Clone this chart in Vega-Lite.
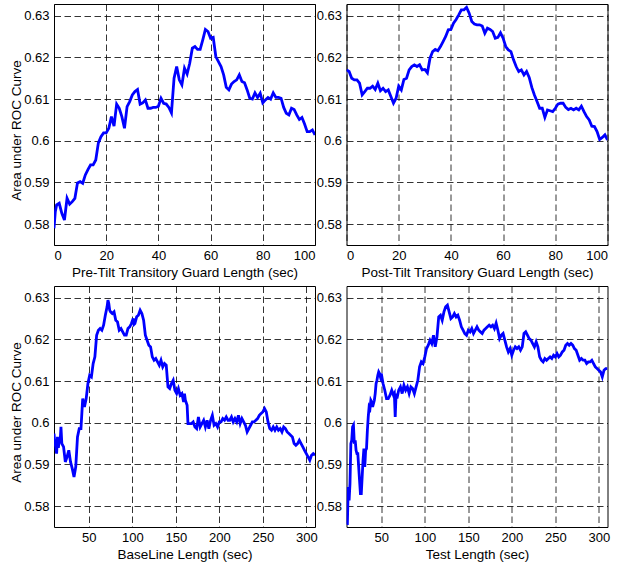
{
"$schema": "https://vega.github.io/schema/vega-lite/v6.json",
"padding": {"left": 9, "top": 3, "right": 5, "bottom": 5},
"autosize": {"type": "pad"},
"columns": 2,
"spacing": {"row": 41, "column": 31.5},
"bounds": "flush",
"datasets": {
"pre": [{"x":0,"y":0.579},{"x":0.5,"y":0.583},{"x":1,"y":0.5846},{"x":2,"y":0.585},{"x":3,"y":0.5826},{"x":4,"y":0.581},{"x":5,"y":0.5862},{"x":6,"y":0.5848},{"x":7,"y":0.5854},{"x":8,"y":0.5862},{"x":9,"y":0.5899},{"x":10,"y":0.5902},{"x":11,"y":0.5898},{"x":12,"y":0.5918},{"x":13,"y":0.5931},{"x":14,"y":0.5942},{"x":15,"y":0.5942},{"x":16,"y":0.5954},{"x":17,"y":0.5995},{"x":18,"y":0.601},{"x":19,"y":0.6019},{"x":20,"y":0.6019},{"x":21,"y":0.603},{"x":22,"y":0.6058},{"x":23,"y":0.6035},{"x":24,"y":0.6088},{"x":25,"y":0.6078},{"x":26,"y":0.6058},{"x":27,"y":0.603},{"x":28,"y":0.6082},{"x":29,"y":0.6094},{"x":30,"y":0.611},{"x":31,"y":0.6118},{"x":32,"y":0.6123},{"x":33,"y":0.6088},{"x":34,"y":0.6091},{"x":35,"y":0.6098},{"x":36,"y":0.6078},{"x":37,"y":0.6078},{"x":38,"y":0.608},{"x":39,"y":0.608},{"x":40,"y":0.6083},{"x":41,"y":0.6102},{"x":42,"y":0.609},{"x":43,"y":0.6088},{"x":44,"y":0.608},{"x":45,"y":0.6067},{"x":46,"y":0.615},{"x":47,"y":0.6178},{"x":48,"y":0.6146},{"x":49,"y":0.6134},{"x":50,"y":0.6174},{"x":51,"y":0.616},{"x":52,"y":0.6186},{"x":53,"y":0.6222},{"x":54,"y":0.6226},{"x":55,"y":0.6219},{"x":56,"y":0.6219},{"x":57,"y":0.6242},{"x":58,"y":0.6267},{"x":59,"y":0.6262},{"x":60,"y":0.6246},{"x":61,"y":0.6248},{"x":62,"y":0.6202},{"x":63,"y":0.619},{"x":64,"y":0.6178},{"x":65,"y":0.6158},{"x":66,"y":0.6128},{"x":67,"y":0.6122},{"x":68,"y":0.6136},{"x":69,"y":0.6142},{"x":70,"y":0.6146},{"x":71,"y":0.6158},{"x":72,"y":0.6142},{"x":73,"y":0.6139},{"x":74,"y":0.6122},{"x":75,"y":0.6102},{"x":76,"y":0.61},{"x":77,"y":0.6115},{"x":78,"y":0.6104},{"x":79,"y":0.6114},{"x":80,"y":0.6091},{"x":81,"y":0.6098},{"x":82,"y":0.6104},{"x":83,"y":0.61},{"x":84,"y":0.6115},{"x":85,"y":0.6104},{"x":86,"y":0.6104},{"x":87,"y":0.6102},{"x":88,"y":0.608},{"x":89,"y":0.6066},{"x":90,"y":0.6062},{"x":91,"y":0.6078},{"x":92,"y":0.6075},{"x":93,"y":0.6062},{"x":94,"y":0.6051},{"x":95,"y":0.6056},{"x":96,"y":0.604},{"x":97,"y":0.6022},{"x":98,"y":0.6022},{"x":99,"y":0.6026},{"x":100,"y":0.6014}],
"post": [{"x":0,"y":0.617},{"x":1,"y":0.6166},{"x":2,"y":0.615},{"x":3,"y":0.6146},{"x":4,"y":0.6146},{"x":5,"y":0.6138},{"x":6,"y":0.611},{"x":7,"y":0.6118},{"x":8,"y":0.6126},{"x":9,"y":0.6126},{"x":10,"y":0.6131},{"x":11,"y":0.6123},{"x":12,"y":0.6138},{"x":13,"y":0.612},{"x":14,"y":0.6126},{"x":15,"y":0.6118},{"x":16,"y":0.6122},{"x":17,"y":0.6106},{"x":18,"y":0.609},{"x":19,"y":0.6102},{"x":20,"y":0.6131},{"x":21,"y":0.6122},{"x":22,"y":0.6147},{"x":23,"y":0.615},{"x":24,"y":0.617},{"x":25,"y":0.6178},{"x":26,"y":0.6182},{"x":27,"y":0.6178},{"x":28,"y":0.6182},{"x":29,"y":0.617},{"x":30,"y":0.6171},{"x":31,"y":0.6163},{"x":32,"y":0.6198},{"x":33,"y":0.6214},{"x":34,"y":0.6219},{"x":35,"y":0.6216},{"x":36,"y":0.6226},{"x":37,"y":0.6238},{"x":38,"y":0.625},{"x":39,"y":0.6266},{"x":40,"y":0.6267},{"x":41,"y":0.6282},{"x":42,"y":0.6291},{"x":43,"y":0.6302},{"x":44,"y":0.6314},{"x":45,"y":0.6314},{"x":46,"y":0.632},{"x":47,"y":0.6306},{"x":48,"y":0.6286},{"x":49,"y":0.628},{"x":50,"y":0.6278},{"x":51,"y":0.6278},{"x":52,"y":0.6275},{"x":53,"y":0.6258},{"x":54,"y":0.627},{"x":55,"y":0.6267},{"x":56,"y":0.6262},{"x":57,"y":0.6246},{"x":58,"y":0.6248},{"x":59,"y":0.6259},{"x":60,"y":0.6246},{"x":61,"y":0.6226},{"x":62,"y":0.6218},{"x":63,"y":0.6214},{"x":64,"y":0.6194},{"x":65,"y":0.6178},{"x":66,"y":0.6166},{"x":67,"y":0.617},{"x":68,"y":0.6158},{"x":69,"y":0.6166},{"x":70,"y":0.6152},{"x":71,"y":0.6128},{"x":72,"y":0.611},{"x":73,"y":0.6094},{"x":74,"y":0.6078},{"x":75,"y":0.6078},{"x":76,"y":0.6056},{"x":77,"y":0.6074},{"x":78,"y":0.6072},{"x":79,"y":0.607},{"x":80,"y":0.6078},{"x":81,"y":0.6088},{"x":82,"y":0.609},{"x":83,"y":0.609},{"x":84,"y":0.608},{"x":85,"y":0.6075},{"x":86,"y":0.6078},{"x":87,"y":0.6074},{"x":88,"y":0.6078},{"x":89,"y":0.6074},{"x":90,"y":0.6083},{"x":91,"y":0.607},{"x":92,"y":0.6058},{"x":93,"y":0.605},{"x":94,"y":0.6035},{"x":95,"y":0.6034},{"x":96,"y":0.6022},{"x":97,"y":0.6003},{"x":98,"y":0.6008},{"x":99,"y":0.6014},{"x":100,"y":0.6002}],
"base": [{"x":10,"y":0.5974},{"x":11,"y":0.595},{"x":12,"y":0.5942},{"x":13,"y":0.5926},{"x":14,"y":0.5966},{"x":15,"y":0.594},{"x":16,"y":0.5958},{"x":17,"y":0.5952},{"x":18,"y":0.599},{"x":19,"y":0.595},{"x":21,"y":0.5942},{"x":23,"y":0.5906},{"x":25,"y":0.5918},{"x":27,"y":0.5934},{"x":29,"y":0.5906},{"x":31,"y":0.589},{"x":33,"y":0.587},{"x":35,"y":0.5894},{"x":37,"y":0.5966},{"x":39,"y":0.5986},{"x":41,"y":0.5986},{"x":43,"y":0.6058},{"x":45,"y":0.6038},{"x":47,"y":0.6058},{"x":49,"y":0.6094},{"x":51,"y":0.6114},{"x":53,"y":0.611},{"x":55,"y":0.6142},{"x":57,"y":0.6158},{"x":59,"y":0.621},{"x":61,"y":0.6222},{"x":63,"y":0.6226},{"x":65,"y":0.6222},{"x":67,"y":0.6234},{"x":69,"y":0.6258},{"x":71,"y":0.6278},{"x":72,"y":0.6294},{"x":73,"y":0.6286},{"x":74,"y":0.627},{"x":75,"y":0.6266},{"x":77,"y":0.6262},{"x":79,"y":0.6266},{"x":81,"y":0.6246},{"x":83,"y":0.6242},{"x":85,"y":0.6222},{"x":87,"y":0.6226},{"x":89,"y":0.6218},{"x":91,"y":0.621},{"x":93,"y":0.621},{"x":95,"y":0.6226},{"x":97,"y":0.623},{"x":99,"y":0.6238},{"x":101,"y":0.625},{"x":102,"y":0.6236},{"x":103,"y":0.6238},{"x":105,"y":0.6254},{"x":107,"y":0.6258},{"x":109,"y":0.627},{"x":111,"y":0.6262},{"x":113,"y":0.6246},{"x":115,"y":0.621},{"x":117,"y":0.6198},{"x":119,"y":0.6186},{"x":121,"y":0.6182},{"x":123,"y":0.6158},{"x":125,"y":0.615},{"x":127,"y":0.6154},{"x":129,"y":0.6146},{"x":131,"y":0.6138},{"x":133,"y":0.615},{"x":135,"y":0.6134},{"x":137,"y":0.6142},{"x":139,"y":0.6138},{"x":141,"y":0.6086},{"x":143,"y":0.6082},{"x":145,"y":0.6094},{"x":147,"y":0.6102},{"x":149,"y":0.6078},{"x":151,"y":0.607},{"x":153,"y":0.6082},{"x":155,"y":0.6066},{"x":157,"y":0.607},{"x":159,"y":0.605},{"x":160,"y":0.607},{"x":161,"y":0.6054},{"x":163,"y":0.6042},{"x":164,"y":0.5998},{"x":166,"y":0.5998},{"x":168,"y":0.5998},{"x":170,"y":0.6002},{"x":172,"y":0.599},{"x":174,"y":0.5986},{"x":176,"y":0.6014},{"x":178,"y":0.599},{"x":180,"y":0.5998},{"x":182,"y":0.6006},{"x":184,"y":0.599},{"x":186,"y":0.6006},{"x":188,"y":0.5986},{"x":190,"y":0.6006},{"x":192,"y":0.6018},{"x":194,"y":0.5994},{"x":196,"y":0.5998},{"x":198,"y":0.599},{"x":200,"y":0.6002},{"x":202,"y":0.6002},{"x":204,"y":0.601},{"x":206,"y":0.6006},{"x":208,"y":0.6014},{"x":210,"y":0.6006},{"x":212,"y":0.6006},{"x":214,"y":0.6014},{"x":216,"y":0.6002},{"x":218,"y":0.601},{"x":220,"y":0.6002},{"x":222,"y":0.6018},{"x":224,"y":0.5998},{"x":226,"y":0.601},{"x":228,"y":0.6002},{"x":230,"y":0.5994},{"x":232,"y":0.5978},{"x":234,"y":0.5986},{"x":236,"y":0.5994},{"x":238,"y":0.6002},{"x":240,"y":0.6002},{"x":242,"y":0.6006},{"x":244,"y":0.601},{"x":246,"y":0.6018},{"x":248,"y":0.6022},{"x":250,"y":0.6026},{"x":252,"y":0.6034},{"x":254,"y":0.6026},{"x":256,"y":0.6002},{"x":258,"y":0.5986},{"x":260,"y":0.5982},{"x":262,"y":0.599},{"x":264,"y":0.5982},{"x":266,"y":0.599},{"x":268,"y":0.5982},{"x":270,"y":0.5986},{"x":272,"y":0.5978},{"x":274,"y":0.599},{"x":276,"y":0.5986},{"x":278,"y":0.5978},{"x":280,"y":0.5974},{"x":282,"y":0.597},{"x":284,"y":0.5966},{"x":286,"y":0.595},{"x":288,"y":0.5946},{"x":290,"y":0.595},{"x":292,"y":0.5958},{"x":294,"y":0.595},{"x":296,"y":0.5942},{"x":298,"y":0.5934},{"x":300,"y":0.5926},{"x":302,"y":0.5918},{"x":304,"y":0.591},{"x":306,"y":0.5922},{"x":308,"y":0.5926},{"x":310,"y":0.5922}],
"test": [{"x":10,"y":0.5758},{"x":11,"y":0.5758},{"x":12,"y":0.5846},{"x":13,"y":0.5814},{"x":14,"y":0.5854},{"x":15,"y":0.595},{"x":16,"y":0.5958},{"x":17,"y":0.599},{"x":18,"y":0.5994},{"x":19,"y":0.595},{"x":20,"y":0.5958},{"x":21,"y":0.5934},{"x":22,"y":0.5926},{"x":23,"y":0.5926},{"x":24,"y":0.5894},{"x":25,"y":0.5862},{"x":26,"y":0.583},{"x":27,"y":0.583},{"x":28,"y":0.587},{"x":29,"y":0.591},{"x":30,"y":0.5938},{"x":31,"y":0.5894},{"x":32,"y":0.5934},{"x":33,"y":0.5938},{"x":34,"y":0.5982},{"x":35,"y":0.6014},{"x":36,"y":0.6038},{"x":37,"y":0.6034},{"x":38,"y":0.6054},{"x":39,"y":0.605},{"x":40,"y":0.6038},{"x":41,"y":0.6046},{"x":42,"y":0.6054},{"x":43,"y":0.607},{"x":44,"y":0.6094},{"x":45,"y":0.6102},{"x":46,"y":0.6114},{"x":47,"y":0.6122},{"x":48,"y":0.6118},{"x":49,"y":0.611},{"x":50,"y":0.6118},{"x":52,"y":0.6094},{"x":54,"y":0.6078},{"x":56,"y":0.6058},{"x":58,"y":0.6058},{"x":60,"y":0.6066},{"x":62,"y":0.6078},{"x":64,"y":0.6066},{"x":65,"y":0.607},{"x":66,"y":0.6014},{"x":67,"y":0.607},{"x":68,"y":0.6058},{"x":70,"y":0.6078},{"x":72,"y":0.6086},{"x":74,"y":0.607},{"x":76,"y":0.609},{"x":78,"y":0.6078},{"x":80,"y":0.6086},{"x":82,"y":0.607},{"x":84,"y":0.6086},{"x":86,"y":0.6082},{"x":88,"y":0.607},{"x":90,"y":0.6086},{"x":92,"y":0.6102},{"x":94,"y":0.6134},{"x":96,"y":0.6146},{"x":98,"y":0.6142},{"x":100,"y":0.6158},{"x":102,"y":0.6178},{"x":104,"y":0.6186},{"x":106,"y":0.6198},{"x":108,"y":0.619},{"x":110,"y":0.621},{"x":112,"y":0.6182},{"x":114,"y":0.6206},{"x":116,"y":0.6254},{"x":118,"y":0.6258},{"x":120,"y":0.6246},{"x":122,"y":0.6266},{"x":124,"y":0.6278},{"x":126,"y":0.6282},{"x":128,"y":0.6266},{"x":130,"y":0.625},{"x":132,"y":0.6254},{"x":134,"y":0.6262},{"x":136,"y":0.6254},{"x":138,"y":0.6258},{"x":140,"y":0.6246},{"x":142,"y":0.623},{"x":144,"y":0.6222},{"x":146,"y":0.6214},{"x":148,"y":0.621},{"x":150,"y":0.6222},{"x":152,"y":0.6218},{"x":154,"y":0.6226},{"x":156,"y":0.6214},{"x":158,"y":0.6222},{"x":160,"y":0.623},{"x":162,"y":0.6222},{"x":164,"y":0.6218},{"x":166,"y":0.6214},{"x":168,"y":0.6222},{"x":170,"y":0.6226},{"x":172,"y":0.623},{"x":174,"y":0.6234},{"x":176,"y":0.623},{"x":178,"y":0.6234},{"x":180,"y":0.6226},{"x":182,"y":0.6239},{"x":184,"y":0.6222},{"x":186,"y":0.6202},{"x":188,"y":0.621},{"x":190,"y":0.6214},{"x":192,"y":0.6198},{"x":194,"y":0.6182},{"x":196,"y":0.617},{"x":198,"y":0.6178},{"x":200,"y":0.6162},{"x":202,"y":0.6174},{"x":204,"y":0.6182},{"x":206,"y":0.6178},{"x":208,"y":0.6182},{"x":210,"y":0.6174},{"x":212,"y":0.6182},{"x":214,"y":0.6214},{"x":216,"y":0.6218},{"x":218,"y":0.621},{"x":220,"y":0.6202},{"x":222,"y":0.6198},{"x":224,"y":0.619},{"x":226,"y":0.6182},{"x":228,"y":0.6194},{"x":230,"y":0.6182},{"x":232,"y":0.6158},{"x":234,"y":0.615},{"x":236,"y":0.6146},{"x":238,"y":0.6154},{"x":240,"y":0.615},{"x":242,"y":0.6154},{"x":244,"y":0.6158},{"x":246,"y":0.6154},{"x":248,"y":0.6162},{"x":250,"y":0.6158},{"x":252,"y":0.6166},{"x":254,"y":0.6158},{"x":256,"y":0.6162},{"x":258,"y":0.617},{"x":260,"y":0.6174},{"x":262,"y":0.6186},{"x":264,"y":0.619},{"x":266,"y":0.6186},{"x":268,"y":0.619},{"x":270,"y":0.6186},{"x":272,"y":0.6178},{"x":274,"y":0.6174},{"x":276,"y":0.6162},{"x":278,"y":0.615},{"x":280,"y":0.6154},{"x":282,"y":0.615},{"x":284,"y":0.615},{"x":286,"y":0.6142},{"x":288,"y":0.6146},{"x":290,"y":0.6146},{"x":292,"y":0.615},{"x":294,"y":0.6142},{"x":296,"y":0.6134},{"x":298,"y":0.613},{"x":300,"y":0.6126},{"x":302,"y":0.6122},{"x":304,"y":0.611},{"x":306,"y":0.6126},{"x":308,"y":0.613},{"x":310,"y":0.613}]
},
"concat": [
{"width": 261, "height": 241, "data": {"name": "pre"}, "mark": {"type": "line", "color": "#0000ff", "strokeWidth": 2.8, "clip": true},
 "encoding": {"x": {"field": "x", "type": "quantitative", "scale": {"domain": [0, 100], "nice": false}, "axis": {"values": [0,20,40,60,80,100], "title": "Pre-Tilt Transitory Guard Length (sec)"}},
  "y": {"field": "y", "type": "quantitative", "scale": {"domain": [0.575, 0.6328], "nice": false, "zero": false}, "axis": {"values": [0.58,0.59,0.6,0.61,0.62,0.63], "format": "~g", "title": "Area under  ROC Curve", "titleY": 126}}}},
{"width": 261, "height": 241, "data": {"name": "post"}, "mark": {"type": "line", "color": "#0000ff", "strokeWidth": 2.8, "clip": true},
 "encoding": {"x": {"field": "x", "type": "quantitative", "scale": {"domain": [0, 100], "nice": false}, "axis": {"values": [0,20,40,60,80,100], "title": "Post-Tilt Transitory Guard Length (sec)"}},
  "y": {"field": "y", "type": "quantitative", "scale": {"domain": [0.575, 0.6328], "nice": false, "zero": false}, "axis": {"values": [0.58,0.59,0.6,0.61,0.62,0.63], "format": "~g", "title": null}}}},
{"width": 261, "height": 241, "data": {"name": "base"}, "mark": {"type": "line", "color": "#0000ff", "strokeWidth": 2.8, "clip": true},
 "encoding": {"x": {"field": "x", "type": "quantitative", "scale": {"domain": [10, 310], "nice": false, "zero": false}, "axis": {"values": [50,100,150,200,250,300], "title": "BaseLine Length (sec)"}},
  "y": {"field": "y", "type": "quantitative", "scale": {"domain": [0.575, 0.6328], "nice": false, "zero": false}, "axis": {"values": [0.58,0.59,0.6,0.61,0.62,0.63], "format": "~g", "title": "Area under  ROC Curve", "titleY": 126}}}},
{"width": 261, "height": 241, "data": {"name": "test"}, "mark": {"type": "line", "color": "#0000ff", "strokeWidth": 2.8, "clip": true},
 "encoding": {"x": {"field": "x", "type": "quantitative", "scale": {"domain": [10, 310], "nice": false, "zero": false}, "axis": {"values": [50,100,150,200,250,300], "title": "Test Length (sec)"}},
  "y": {"field": "y", "type": "quantitative", "scale": {"domain": [0.575, 0.6328], "nice": false, "zero": false}, "axis": {"values": [0.58,0.59,0.6,0.61,0.62,0.63], "format": "~g", "title": null}}}}
],
"config": {
 "font": "Liberation Sans",
 "background": "white",
 "view": {"stroke": "black", "strokeWidth": 1},
 "axis": {"grid": true, "gridColor": "black", "gridDash": [6.5, 3.5], "gridOpacity": 1, "gridWidth": 0.8, "domain": false, "ticks": false,
  "labelFont": "Liberation Sans", "labelFontSize": 13, "labelColor": "black", "titleFont": "Liberation Sans", "titleFontSize": 13.5, "titleFontWeight": "normal", "titleColor": "black"},
 "axisX": {"labelPadding": 4, "titlePadding": 3},
 "axisY": {"labelPadding": 5, "titlePadding": 0}
}
}
